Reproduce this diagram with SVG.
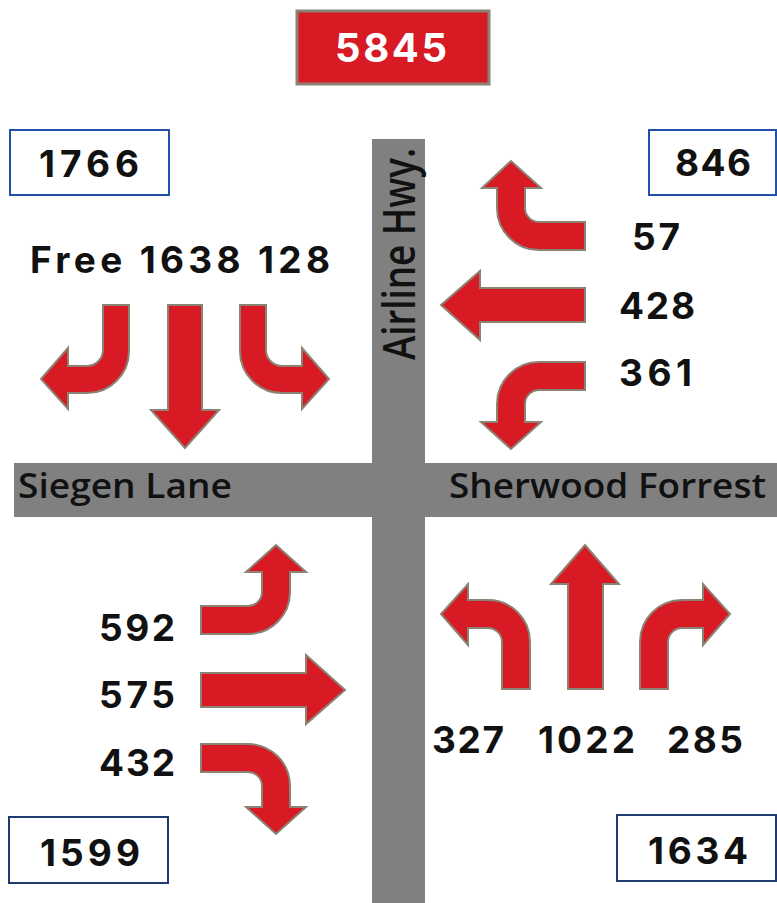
<svg xmlns="http://www.w3.org/2000/svg" width="777" height="903" viewBox="0 0 777 903">
<style>
.road{fill:#808080}
.rl{font-family:"Open Sans","Liberation Sans",Arial,sans-serif;font-size:34px;font-weight:600;fill:#111}
.arr{fill:#D71A24;stroke:#8C8274;stroke-width:2;stroke-linejoin:miter}
.num{font-family:Inter,"Liberation Sans",Arial,sans-serif;font-weight:bold;font-size:37px;fill:#111}
.box{fill:#fff;stroke:#2350A8;stroke-width:2}
.box2{fill:#fff;stroke:#1F3A6E;stroke-width:2}
</style>
<rect width="777" height="903" fill="#fff"/>
<g id="roads">
  <rect class="road" x="372" y="139" width="53" height="764"/>
  <rect class="road" x="14" y="463" width="763" height="54"/>
  <text class="rl" x="18" y="498" textLength="214" lengthAdjust="spacingAndGlyphs">Siegen Lane</text>
  <text class="rl" x="449" y="498" textLength="317" lengthAdjust="spacingAndGlyphs">Sherwood Forrest</text>
  <text class="rl" transform="translate(415,360) rotate(-90)" x="0" y="0" style="font-size:46px" textLength="212" lengthAdjust="spacingAndGlyphs">Airline Hwy.</text>
</g>
<g id="total">
  <rect x="297" y="11" width="192" height="73" fill="#D71A24" stroke="#8C8274" stroke-width="3"/>
  <text class="num" x="335" y="62" style="font-size:40px;fill:#fff" textLength="112" lengthAdjust="spacing">5845</text>
</g>
<g id="nw-box">
  <rect class="box" x="10" y="130" width="159" height="65"/>
  <text class="num" x="39" y="177" textLength="100" lengthAdjust="spacing">1766</text>
</g>
<g id="ne-box">
  <rect class="box" x="649" y="130" width="127" height="65"/>
  <text class="num" x="675" y="176" textLength="76" lengthAdjust="spacing">846</text>
</g>
<g id="sw-box">
  <rect class="box2" x="9" y="817" width="159" height="66"/>
  <text class="num" x="40" y="866" textLength="100" lengthAdjust="spacing">1599</text>
</g>
<g id="se-box">
  <rect class="box2" x="617" y="815" width="159" height="66"/>
  <text class="num" x="648" y="864" textLength="100" lengthAdjust="spacing">1634</text>
</g>
<g id="southbound">
  <text class="num" x="30" y="273" textLength="300" lengthAdjust="spacing">Free 1638 128</text>
  <path class="arr" d="M103 305 L129 305 L129 351 A42 42 0 0 1 87 393 L68 393 L68 409 L41 379 L68 348 L68 366 L87 366 A16 16 0 0 0 103 350 Z"/>
  <path class="arr" d="M168 305 H202 V410 H219 L185 448 L151 410 H168 Z"/>
  <path class="arr" d="M240 305 H266 V350 A16 16 0 0 0 282 366 H302 V348 L329 379 L302 409 V393 H282 A42 42 0 0 1 240 351 Z"/>
</g>
<g id="westbound">
  <path class="arr" d="M585 222 V250 H539 A42 42 0 0 1 497 208 V188 H482 L511 161 L541 188 H525 V208 A14 14 0 0 0 539 222 Z"/>
  <path class="arr" d="M585 288 V322 H480 V340 L441 305 L480 271 V288 Z"/>
  <path class="arr" d="M585 362 V390 H539 A14 14 0 0 0 525 404 V422 H541 L511 449 L481 422 H497 V404 A42 42 0 0 1 539 362 Z"/>
  <text class="num" x="632" y="250" textLength="48" lengthAdjust="spacing">57</text>
  <text class="num" x="619" y="319" textLength="76" lengthAdjust="spacing">428</text>
  <text class="num" x="619" y="386" textLength="73" lengthAdjust="spacing">361</text>
</g>
<g id="eastbound">
  <path class="arr" d="M201 606 H248 A14 14 0 0 0 262 592 V572 H246 L276 545 L306 572 H290 V592 A42 42 0 0 1 248 634 H201 Z"/>
  <path class="arr" d="M201 673 H306 V655 L345 690 L306 724 V707 H201 Z"/>
  <path class="arr" d="M201 744 H248 A42 42 0 0 1 290 786 V807 H306 L276 834 L246 807 H262 V786 A14 14 0 0 0 248 772 H201 Z"/>
  <text class="num" x="99" y="641" textLength="76" lengthAdjust="spacing">592</text>
  <text class="num" x="99" y="708" textLength="76" lengthAdjust="spacing">575</text>
  <text class="num" x="99" y="776" textLength="76" lengthAdjust="spacing">432</text>
</g>
<g id="northbound">
  <path class="arr" d="M530 689 H502 V642 A14 14 0 0 0 488 628 H468 V645 L441 614 L468 584 V600 H488 A42 42 0 0 1 530 642 Z"/>
  <path class="arr" d="M568 689 V584 H551 L585 545 L619 584 H603 V689 Z"/>
  <path class="arr" d="M640 689 V642 A42 42 0 0 1 682 600 H703 V584 L730 614 L703 645 V628 H682 A14 14 0 0 0 668 642 V689 Z"/>
  <text class="num" x="432" y="753" textLength="72" lengthAdjust="spacing">327</text>
  <text class="num" x="538" y="753" textLength="97" lengthAdjust="spacing">1022</text>
  <text class="num" x="667" y="753" textLength="76" lengthAdjust="spacing">285</text>
</g>
</svg>
